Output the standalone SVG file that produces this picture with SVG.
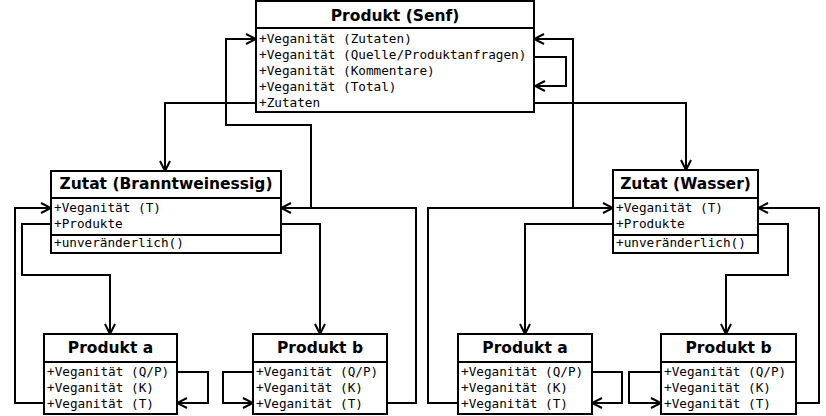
<svg xmlns="http://www.w3.org/2000/svg" width="826" height="416" viewBox="0 0 826 416">
<style>
.box{fill:#fff;stroke:#000;stroke-width:2}
.div{stroke:#000;stroke-width:2}
.t{font-family:"DejaVu Sans",sans-serif;font-weight:bold;font-size:15.5px;text-anchor:middle;fill:#000}
.m{font-family:"DejaVu Sans Mono",monospace;font-size:12.7px;fill:#000}
.c{fill:none;stroke:#000;stroke-width:2;marker-end:url(#arr)}
.cn{fill:none;stroke:#000;stroke-width:2}
</style>
<defs>
<marker id="arr" viewBox="0 0 12 12" markerWidth="12" markerHeight="12" refX="11" refY="6" orient="auto" markerUnits="userSpaceOnUse">
<path d="M1,1 L11,6 L1,11" fill="none" stroke="#000" stroke-width="2"/>
</marker>
</defs>
<rect width="826" height="416" fill="#fff"/>
<g id="connectors">
<path class="c" d="M256,103 H165 V171"/>
<path class="c" d="M534,103 H686 V170"/>
<path class="c" d="M534,57 H566 V86 H535"/>
<path class="c" d="M281,208 H311 V125 H226 V39 H256"/>
<path class="c" d="M613,208 H573 V39 H534"/>
<path class="c" d="M51,224 H22 V275 H110 V334"/>
<path class="c" d="M281,224 H320 V334"/>
<path class="c" d="M44,403 H15 V208 H51"/>
<path class="c" d="M387,403 H416 V208 H281"/>
<path class="c" d="M177,372 H208 V403 H177"/>
<path class="c" d="M253,372 H223 V403 H253"/>
<path class="c" d="M613,224 H525 V334"/>
<path class="c" d="M758,224 H788 V275 H726 V334"/>
<path class="c" d="M458,403 H428 V208 H613"/>
<path class="c" d="M796,403 H819 V208 H758"/>
<path class="c" d="M592,372 H622 V403 H592"/>
<path class="c" d="M661,372 H629 V403 H661"/>
</g>
<g id="produkt-senf">
<rect class="box" x="256" y="1" width="278" height="111"/>
<line class="div" x1="256" y1="28" x2="534" y2="28"/>
<text class="t" x="395" y="21">Produkt (Senf)</text>
<text class="m" x="259" y="43">+Veganität (Zutaten)</text>
<text class="m" x="259" y="59">+Veganität (Quelle/Produktanfragen)</text>
<text class="m" x="259" y="75">+Veganität (Kommentare)</text>
<text class="m" x="259" y="91">+Veganität (Total)</text>
<text class="m" x="259" y="107">+Zutaten</text>
</g>
<g id="zutat-branntweinessig">
<rect class="box" x="51" y="171" width="230" height="82"/>
<line class="div" x1="51" y1="198" x2="281" y2="198"/>
<line class="div" x1="51" y1="235" x2="281" y2="235"/>
<text class="t" x="166" y="189">Zutat (Branntweinessig)</text>
<text class="m" x="54" y="212">+Veganität (T)</text>
<text class="m" x="54" y="228">+Produkte</text>
<text class="m" x="54" y="247">+unveränderlich()</text>
</g>
<g id="zutat-wasser">
<rect class="box" x="613" y="170" width="145" height="83"/>
<line class="div" x1="613" y1="198" x2="758" y2="198"/>
<line class="div" x1="613" y1="235" x2="758" y2="235"/>
<text class="t" x="685.5" y="189">Zutat (Wasser)</text>
<text class="m" x="616" y="212">+Veganität (T)</text>
<text class="m" x="616" y="228">+Produkte</text>
<text class="m" x="616" y="247">+unveränderlich()</text>
</g>
<g id="produkt-a-1">
<rect class="box" x="44" y="334" width="133" height="80"/>
<line class="div" x1="44" y1="362" x2="177" y2="362"/>
<text class="t" x="110.5" y="353">Produkt a</text>
<text class="m" x="47" y="376">+Veganität (Q/P)</text>
<text class="m" x="47" y="392">+Veganität (K)</text>
<text class="m" x="47" y="408">+Veganität (T)</text>
</g>
<g id="produkt-b-1">
<rect class="box" x="253" y="334" width="134" height="80"/>
<line class="div" x1="253" y1="362" x2="387" y2="362"/>
<text class="t" x="320" y="353">Produkt b</text>
<text class="m" x="256" y="376">+Veganität (Q/P)</text>
<text class="m" x="256" y="392">+Veganität (K)</text>
<text class="m" x="256" y="408">+Veganität (T)</text>
</g>
<g id="produkt-a-2">
<rect class="box" x="458" y="334" width="134" height="80"/>
<line class="div" x1="458" y1="362" x2="592" y2="362"/>
<text class="t" x="525" y="353">Produkt a</text>
<text class="m" x="461" y="376">+Veganität (Q/P)</text>
<text class="m" x="461" y="392">+Veganität (K)</text>
<text class="m" x="461" y="408">+Veganität (T)</text>
</g>
<g id="produkt-b-2">
<rect class="box" x="661" y="334" width="135" height="80"/>
<line class="div" x1="661" y1="362" x2="796" y2="362"/>
<text class="t" x="728.5" y="353">Produkt b</text>
<text class="m" x="664" y="376">+Veganität (Q/P)</text>
<text class="m" x="664" y="392">+Veganität (K)</text>
<text class="m" x="664" y="408">+Veganität (T)</text>
</g>
</svg>
